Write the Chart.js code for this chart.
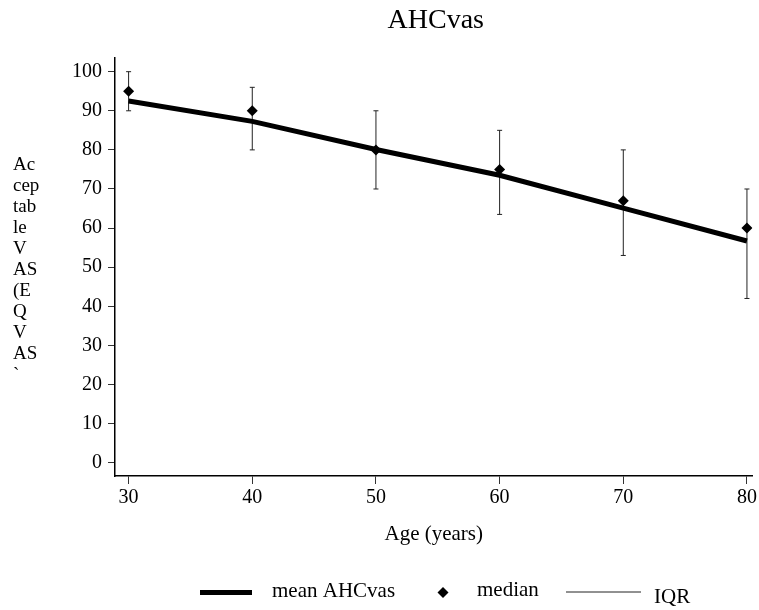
<!DOCTYPE html>
<html>
<head>
<meta charset="utf-8">
<script src="https://cdn.jsdelivr.net/npm/chart.js@4"></script>
<style>
  html, body { margin: 0; padding: 0; background: #fff; }
</style>
</head>
<body>
<canvas id="myChart" width="759" height="610"></canvas>
<script>
  // data
  const ages = [30, 40, 50, 60, 70, 80];
  const meanVas = [92.5, 87.3, 80.1, 73.5, 65.1, 56.7];
  const medianVas = [95, 90, 80, 75, 67, 60];
  const iqrLow = [90, 80, 70, 63.5, 53, 42];
  const iqrHigh = [100, 96, 90, 85, 80, 70];

  const xTicks = [30, 40, 50, 60, 70, 80];
  const yTicks = [0, 10, 20, 30, 40, 50, 60, 70, 80, 90, 100];
  const yLabelLines = ['Ac', 'cep', 'tab', 'le', 'V', 'AS', '(E', 'Q', 'V', 'AS', '`'];

  const SERIF = '"Liberation Serif", "Times New Roman", serif';

  // whiskers: low/high pair per age, null breaks the line between ages
  const iqrPoints = [];
  ages.forEach((a, i) => {
    iqrPoints.push({x: a, y: iqrLow[i]});
    iqrPoints.push({x: a, y: iqrHigh[i]});
    iqrPoints.push({x: a, y: null});
  });

  function putText(ctx, txt, x, y, size, align) {
    ctx.save();
    ctx.font = size + 'px ' + SERIF;
    ctx.fillStyle = '#000';
    ctx.textBaseline = 'alphabetic';
    ctx.textAlign = align || 'left';
    ctx.fillText(txt, x, y);
    ctx.restore();
  }

  const extras = {
    id: 'extras',
    afterDraw(chart) {
      const ctx = chart.ctx;
      const area = chart.chartArea;
      const mid = (area.left + area.right) / 2;

      putText(ctx, 'AHCvas', mid + 2, 28, 28, 'center');
      putText(ctx, 'Age (years)', mid, 540, 21, 'center');

      yLabelLines.forEach((t, i) => {
        putText(ctx, t, 13, 170 + i * 21, 19, 'left');
      });

      // legend
      ctx.save();
      ctx.strokeStyle = '#000';
      ctx.lineWidth = 5;
      ctx.beginPath();
      ctx.moveTo(200, 592.5);
      ctx.lineTo(252, 592.5);
      ctx.stroke();

      ctx.fillStyle = '#000';
      ctx.beginPath();
      ctx.moveTo(443, 587);
      ctx.lineTo(448.5, 592.5);
      ctx.lineTo(443, 598);
      ctx.lineTo(437.5, 592.5);
      ctx.closePath();
      ctx.fill();

      ctx.lineWidth = 1;
      ctx.strokeStyle = '#222';
      ctx.beginPath();
      ctx.moveTo(566, 592);
      ctx.lineTo(641, 592);
      ctx.stroke();
      ctx.restore();

      putText(ctx, 'mean AHCvas', 272, 597, 21, 'left');
      putText(ctx, 'median', 477, 596, 21, 'left');
      putText(ctx, 'IQR', 654, 603, 21, 'left');
    }
  };

  const data = {
    datasets: [
      {
        label: 'median',
        type: 'scatter',
        data: ages.map((a, i) => ({x: a, y: medianVas[i]})),
        pointStyle: 'rectRot',
        pointRadius: 5.5,
        pointBorderWidth: 0,
        backgroundColor: '#000',
        borderColor: '#000',
        order: 1
      },
      {
        label: 'mean AHCvas',
        type: 'line',
        data: ages.map((a, i) => ({x: a, y: meanVas[i]})),
        borderColor: '#000',
        borderWidth: 5,
        pointRadius: 0,
        tension: 0,
        fill: false,
        order: 2
      },
      {
        label: 'IQR',
        type: 'line',
        data: iqrPoints,
        borderColor: '#222',
        borderWidth: 1,
        spanGaps: false,
        pointStyle: 'line',
        pointRadius: 2.5,
        pointBorderWidth: 1,
        pointBorderColor: '#222',
        fill: false,
        order: 3
      }
    ]
  };

  const config = {
    type: 'line',
    data: data,
    options: {
      responsive: false,
      animation: false,
      layout: { padding: { left: 0, right: 1, top: 58, bottom: 0 } },
      plugins: {
        legend: { display: false },
        tooltip: { enabled: false },
        title: { display: false }
      },
      scales: {
        x: {
          type: 'linear',
          min: 28.9,
          max: 80.45,
          afterBuildTicks: s => { s.ticks = xTicks.map(v => ({value: v})); },
          afterFit: s => { s.height = 134; },
          grid: { drawOnChartArea: false, drawTicks: true, tickLength: 8, color: '#333' },
          border: { display: true, color: '#000', width: 1.5 },
          ticks: { color: '#000', padding: 2, maxRotation: 0, font: { family: SERIF, size: 20 } }
        },
        y: {
          type: 'linear',
          min: -3.4,
          max: 103.5,
          afterBuildTicks: s => { s.ticks = yTicks.map(v => ({value: v})); },
          afterFit: s => { s.width = 115; },
          grid: { drawOnChartArea: false, drawTicks: true, tickLength: 7, color: '#333' },
          border: { display: true, color: '#000', width: 1.5 },
          ticks: { color: '#000', padding: 6, font: { family: SERIF, size: 20 } }
        }
      }
    },
    plugins: [extras]
  };

  const myChart = new Chart(document.getElementById('myChart'), config);
</script>
</body>
</html>
